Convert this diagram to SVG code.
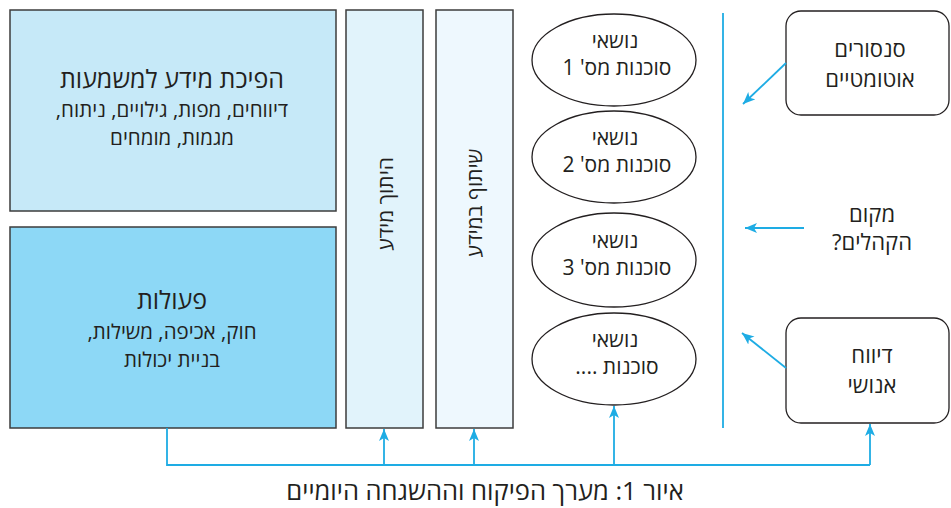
<svg xmlns="http://www.w3.org/2000/svg" width="951" height="508" viewBox="0 0 951 508">
<style>
  text { font-family: "Open Sans", "Liberation Sans", "DejaVu Sans", sans-serif; fill: #231f20; direction: rtl; }
  .box { stroke: #3d3d3d; stroke-width: 1.5; }
  .ell { fill: #ffffff; stroke: #231f20; stroke-width: 1.3; }
  .rbox { fill: #ffffff; stroke: #231f20; stroke-width: 1.3; }
  .conn { fill: none; stroke: #1eace4; stroke-width: 1.8; }
  .t22 { font-size: 25px; }
  .t18 { font-size: 20.5px; }
  .t17 { font-size: 21px; }
  .tr { font-size: 22px; }
  .tv { font-size: 21px; }
  .cap { font-size: 25.5px; }
</style>
<defs>
  <marker id="ah" viewBox="-12 -6 13 12" refX="0" refY="0" markerWidth="13" markerHeight="12" markerUnits="userSpaceOnUse" orient="auto">
    <path d="M0,0 L-12,-5 L-9,0 L-12,5 Z" fill="#1eace4"/>
  </marker>
</defs>

<g id="node-meaning">
  <rect class="box" x="10" y="10" width="326" height="201" fill="#c6e9f8"/>
  <text class="t22" x="172" y="88" text-anchor="middle">הפיכת מידע למשמעות</text>
  <text class="t18" x="172" y="117" text-anchor="middle">דיווחים, מפות, גילויים, ניתוח,</text>
  <text class="t18" x="172" y="145" text-anchor="middle">מגמות, מומחים</text>
</g>

<g id="node-actions">
  <rect class="box" x="10" y="227" width="326" height="201" fill="#8dd8f6"/>
  <text class="t22" x="172" y="309" text-anchor="middle">פעולות</text>
  <text class="t18" x="172" y="339" text-anchor="middle">חוק, אכיפה, משילות,</text>
  <text class="t18" x="172" y="367" text-anchor="middle">בניית יכולות</text>
</g>

<g id="node-fusion">
  <rect class="box" x="346" y="10" width="77" height="418" fill="#e1f3fb"/>
  <text class="tv" transform="translate(385,204) rotate(-90)" text-anchor="middle" dominant-baseline="central">היתוך מידע</text>
</g>

<g id="node-sharing">
  <rect class="box" x="436" y="10" width="77" height="418" fill="#eef8fe"/>
  <text class="tv" transform="translate(474,203) rotate(-90)" text-anchor="middle" dominant-baseline="central">שיתוף במידע</text>
</g>

<g id="node-topic1">
  <ellipse class="ell" cx="614" cy="60" rx="82" ry="46"/>
  <text class="t17" x="615" y="48" text-anchor="middle">נושאי</text>
  <text class="t17" x="617" y="75" text-anchor="middle">סוכנות מס' 1</text>
</g>
<g id="node-topic2">
  <ellipse class="ell" cx="614" cy="157" rx="82" ry="46"/>
  <text class="t17" x="615" y="145" text-anchor="middle">נושאי</text>
  <text class="t17" x="617" y="172" text-anchor="middle">סוכנות מס' 2</text>
</g>
<g id="node-topic3">
  <ellipse class="ell" cx="614" cy="260" rx="82" ry="47"/>
  <text class="t17" x="615" y="248" text-anchor="middle">נושאי</text>
  <text class="t17" x="617" y="275" text-anchor="middle">סוכנות מס' 3</text>
</g>
<g id="node-topic4">
  <ellipse class="ell" cx="614" cy="359" rx="82" ry="46"/>
  <text class="t17" x="615" y="347" text-anchor="middle">נושאי</text>
  <text class="t17" x="617" y="374" text-anchor="middle">סוכנות ....</text>
</g>

<g id="node-sensors">
  <rect class="rbox" x="786" y="11" width="163" height="104" rx="15" ry="15"/>
  <text class="tr" x="870" y="57" text-anchor="middle">סנסורים</text>
  <text class="tr" x="870" y="87" text-anchor="middle">אוטומטיים</text>
</g>

<g id="node-location">
  <text class="tr" x="872" y="222" text-anchor="middle">מקום</text>
  <text class="tr" x="872" y="250" text-anchor="middle">הקהלים?</text>
</g>

<g id="node-human">
  <rect class="rbox" x="786" y="318" width="163" height="105" rx="15" ry="15"/>
  <text class="tr" x="872" y="363" text-anchor="middle">דיווח</text>
  <text class="tr" x="872" y="393" text-anchor="middle">אנושי</text>
</g>

<g id="connectors">
  <line class="conn" x1="723" y1="13" x2="723" y2="428"/>
  <line class="conn" x1="786" y1="63" x2="743" y2="104" marker-end="url(#ah)"/>
  <line class="conn" x1="804" y1="228" x2="745" y2="228" marker-end="url(#ah)"/>
  <line class="conn" x1="786" y1="368" x2="742" y2="333" marker-end="url(#ah)"/>
  <polyline class="conn" points="167,428 167,465 870,465"/>
  <line class="conn" x1="384" y1="465" x2="384" y2="429" marker-end="url(#ah)"/>
  <line class="conn" x1="474" y1="465" x2="474" y2="429" marker-end="url(#ah)"/>
  <line class="conn" x1="614" y1="465" x2="614" y2="406" marker-end="url(#ah)"/>
  <line class="conn" x1="870" y1="465" x2="870" y2="424" marker-end="url(#ah)"/>
</g>

<text class="cap" x="485" y="500" text-anchor="middle">איור 1: מערך הפיקוח וההשגחה היומיים</text>
</svg>
